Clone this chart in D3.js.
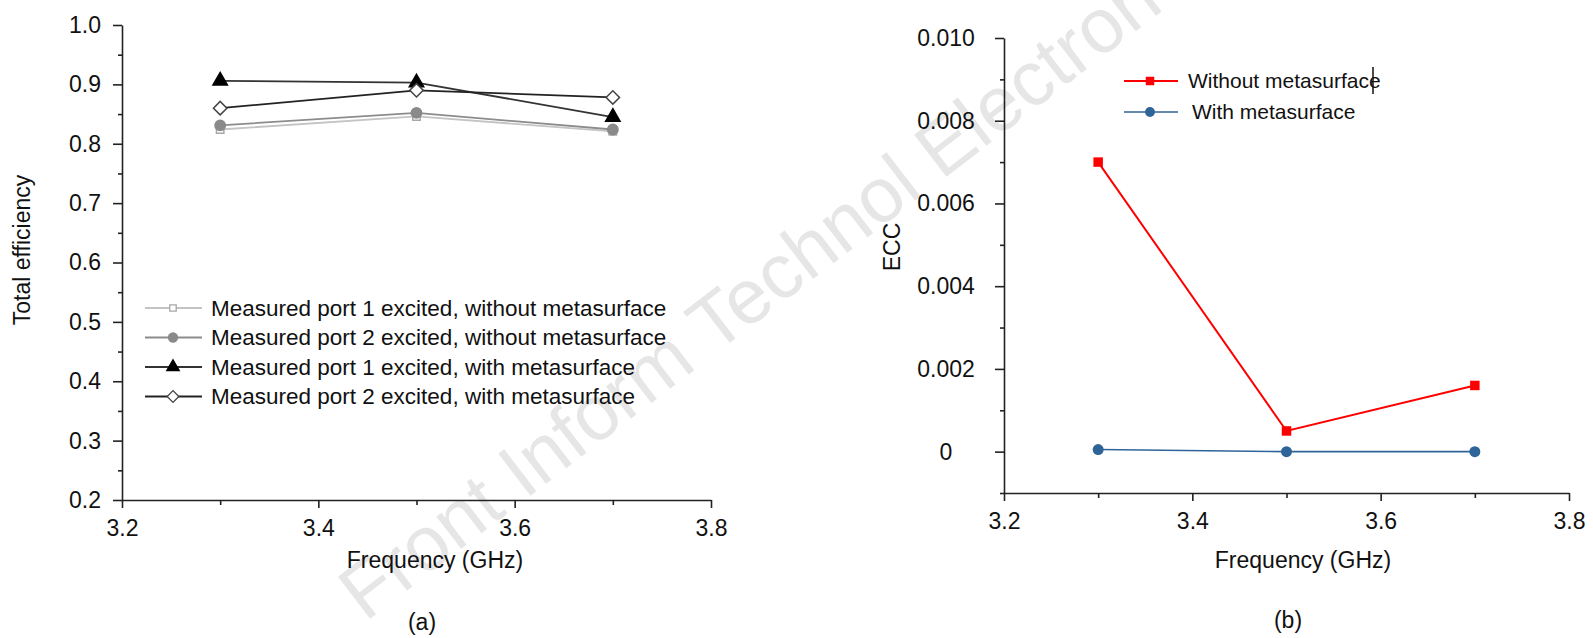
<!DOCTYPE html>
<html>
<head>
<meta charset="utf-8">
<script src="https://cdn.jsdelivr.net/npm/d3@7"></script>
<style>
  body { margin: 0; background: #fff; }
  svg text { font-family: "Liberation Sans", Arial, sans-serif; fill: #111; }
</style>
</head>
<body>
<svg id="chart" width="1593" height="638"></svg>
<script>
// ~~~~~ data ~~~~~
var freqs = [3.3, 3.5, 3.7];
var xTicks = [3.2, 3.4, 3.6, 3.8];
var xMinor = [3.3, 3.5, 3.7];

// (a) total efficiency
var effTicks = [0.2, 0.3, 0.4, 0.5, 0.6, 0.7, 0.8, 0.9, 1.0];
var effMinor = [0.25, 0.35, 0.45, 0.55, 0.65, 0.75, 0.85, 0.95];
var effNames = ["Measured port 1 excited, without metasurface",
                "Measured port 2 excited, without metasurface",
                "Measured port 1 excited, with metasurface",
                "Measured port 2 excited, with metasurface"];
var p1Without = [0.824, 0.846, 0.821];
var p2Without = [0.831, 0.852, 0.824];
var p1With    = [0.906, 0.903, 0.845];
var p2With    = [0.860, 0.890, 0.878];

// (b) ECC
var eccTicks = [0, 0.002, 0.004, 0.006, 0.008, 0.010];
var eccMinor = [-0.001, 0.001, 0.003, 0.005, 0.007, 0.009];
var eccNames = ["Without metasurface", "With metasurface"];
var eccWithout = [0.0070, 0.0005, 0.0016];
var eccWith    = [0.00005, 0.0, 0.0];

var svg = d3.select("#chart");

// watermark (behind everything)
svg.append("text")
  .attr("transform", "translate(749,294) rotate(-37.5)")
  .attr("text-anchor", "middle")
  .attr("dominant-baseline", "central")
  .style("font-size", "77px")
  .style("fill", "#e6e6e6")
  .text("Front Inform Technol Electron");

// helper to draw axes with major + minor ticks
function drawAxes(g, x, y, opt) {
  var ax = g.append("g").attr("transform", "translate(0," + y.range()[0] + ")");
  ax.call(d3.axisBottom(x).tickValues(xTicks).tickSize(8).tickSizeOuter(0).tickPadding(8).tickFormat(d3.format(".1f")));
  g.append("g").attr("transform", "translate(0," + y.range()[0] + ")")
    .call(d3.axisBottom(x).tickValues(xMinor).tickSize(5).tickFormat(""))
    .select(".domain").remove();

  var ay = g.append("g").attr("transform", "translate(" + x.range()[0] + ",0)");
  ay.call(d3.axisLeft(y).tickValues(opt.major).tickSize(9).tickSizeOuter(0).tickPadding(opt.pad).tickFormat(opt.fmt));
  g.append("g").attr("transform", "translate(" + x.range()[0] + ",0)")
    .call(d3.axisLeft(y).tickValues(opt.minor).tickSize(4).tickFormat(""))
    .select(".domain").remove();

  g.selectAll(".domain, .tick line").attr("stroke", "#222").attr("stroke-width", 1.6);
  g.selectAll(".tick text").style("font-size", "23px").attr("fill", "#111");
  ax.selectAll(".tick text").attr("dy", "0.85em");
  return ay;
}

// ~~~~~ panel (a) ~~~~~
var xa = d3.scaleLinear().domain([3.2, 3.8]).range([122, 711]);
var ya = d3.scaleLinear().domain([0.2, 1.0]).range([500, 25]);
var ga = svg.append("g");
drawAxes(ga, xa, ya, {major: effTicks, minor: effMinor, pad: 12, fmt: d3.format(".1f")});

ga.append("text").attr("x", 435).attr("y", 568).attr("text-anchor", "middle")
  .style("font-size", "23px").text("Frequency (GHz)");
ga.append("text").attr("transform", "translate(30,250) rotate(-90)").attr("text-anchor", "middle")
  .style("font-size", "23px").text("Total efficiency");
ga.append("text").attr("x", 422).attr("y", 630).attr("text-anchor", "middle")
  .style("font-size", "23px").text("(a)");

var effSeries = [
  {name: effNames[0], vals: p1Without, line: "#c4c4c4", shape: d3.symbolSquare, size: 55, rot: 0, fill: "#fff", stroke: "#a8a8a8"},
  {name: effNames[1], vals: p2Without, line: "#8c8c8c", shape: d3.symbolCircle, size: 85, rot: 0, fill: "#8a8a8a", stroke: "#8a8a8a"},
  {name: effNames[2], vals: p1With,    line: "#333",    shape: d3.symbolTriangle, size: 90, rot: 0, fill: "#000", stroke: "#000"},
  {name: effNames[3], vals: p2With,    line: "#222",    shape: d3.symbolSquare, size: 90, rot: 45, fill: "#fff", stroke: "#444"}
];

var lineA = d3.line().x(function(d, i) { return xa(freqs[i]); }).y(function(d) { return ya(d); });

effSeries.forEach(function(s) {
  ga.append("path").attr("d", lineA(s.vals)).attr("fill", "none")
    .attr("stroke", s.line).attr("stroke-width", 1.8);
  ga.selectAll(null).data(s.vals).enter().append("path")
    .attr("d", d3.symbol().type(s.shape).size(s.size))
    .attr("transform", function(d, i) { return "translate(" + xa(freqs[i]) + "," + ya(d) + ") rotate(" + s.rot + ")"; })
    .attr("fill", s.fill).attr("stroke", s.stroke).attr("stroke-width", 1.5);
});

// legend (a)
var legA = ga.append("g");
effSeries.forEach(function(s, i) {
  var yy = 308 + i * 29.5;
  legA.append("line").attr("x1", 145).attr("x2", 202).attr("y1", yy).attr("y2", yy)
    .attr("stroke", s.line).attr("stroke-width", 1.8);
  legA.append("path").attr("d", d3.symbol().type(s.shape).size(s.size * 0.75))
    .attr("transform", "translate(173," + yy + ") rotate(" + s.rot + ")")
    .attr("fill", s.fill).attr("stroke", s.stroke).attr("stroke-width", 1.3);
  legA.append("text").attr("x", 211).attr("y", yy).attr("dy", "0.35em")
    .style("font-size", "22.5px").text(s.name);
});

// ~~~~~ panel (b) ~~~~~
var xb = d3.scaleLinear().domain([3.2, 3.8]).range([1004, 1569]);
var yb = d3.scaleLinear().domain([-0.001, 0.010]).range([493, 38]);
var gb = svg.append("g");
var ayb = drawAxes(gb, xb, yb, {major: eccTicks, minor: eccMinor, pad: 14,
  fmt: function(d) { return d === 0 ? "0" : d3.format(".3f")(d); }});
// ECC labels are centred
ayb.selectAll(".tick text").attr("text-anchor", "middle").attr("x", -58);

gb.append("text").attr("x", 1303).attr("y", 568).attr("text-anchor", "middle")
  .style("font-size", "23px").text("Frequency (GHz)");
gb.append("text").attr("transform", "translate(900,247) rotate(-90)").attr("text-anchor", "middle")
  .style("font-size", "23px").text("ECC");
gb.append("text").attr("x", 1288).attr("y", 628).attr("text-anchor", "middle")
  .style("font-size", "23px").text("(b)");

var eccSeries = [
  {name: eccNames[0], vals: eccWithout, color: "#ff0000", shape: d3.symbolSquare, size: 90, width: 2},
  {name: eccNames[1], vals: eccWith,    color: "#2f6499", shape: d3.symbolCircle, size: 95, width: 1.6}
];
var lineB = d3.line().x(function(d, i) { return xb(freqs[i]); }).y(function(d) { return yb(d); });

eccSeries.forEach(function(s) {
  gb.append("path").attr("d", lineB(s.vals)).attr("fill", "none")
    .attr("stroke", s.color).attr("stroke-width", s.width);
  gb.selectAll(null).data(s.vals).enter().append("path")
    .attr("d", d3.symbol().type(s.shape).size(s.size))
    .attr("transform", function(d, i) { return "translate(" + xb(freqs[i]) + "," + yb(d) + ")"; })
    .attr("fill", s.color);
});

var legB = gb.append("g");
eccSeries.forEach(function(s, i) {
  var yy = 81 + i * 31;
  legB.append("line").attr("x1", 1124).attr("x2", 1178).attr("y1", yy).attr("y2", yy)
    .attr("stroke", s.color).attr("stroke-width", s.width);
  legB.append("path").attr("d", d3.symbol().type(s.shape).size(s.size * 0.8))
    .attr("transform", "translate(1150," + yy + ")").attr("fill", s.color);
  legB.append("text").attr("x", 1188 + i * 4).attr("y", yy).attr("dy", "0.35em")
    .style("font-size", "21px").text(s.name);
});
// stray text cursor left in the source figure
legB.append("line").attr("x1", 1373).attr("x2", 1373).attr("y1", 67).attr("y2", 94)
  .attr("stroke", "#111").attr("stroke-width", 1.5);
</script>
</body>
</html>
